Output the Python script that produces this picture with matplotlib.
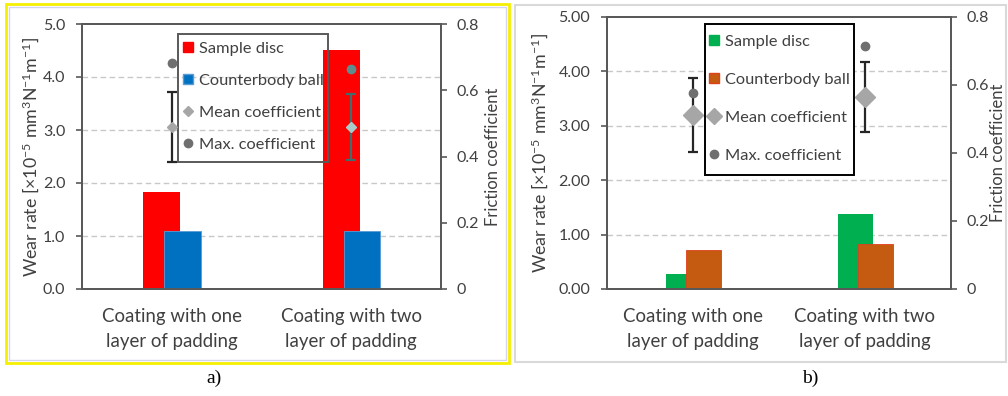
import numpy as np
import matplotlib
matplotlib.use("Agg")
import matplotlib.pyplot as plt
from matplotlib.lines import Line2D
from matplotlib.patches import Rectangle

plt.rcParams['font.family'] = ['Lato', 'DejaVu Sans']
plt.rcParams['mathtext.fontset'] = 'custom'
plt.rcParams['mathtext.rm'] = 'Lato'
plt.rcParams['mathtext.it'] = 'Lato'
plt.rcParams['mathtext.bf'] = 'Lato'

categories = ["Coating with one\nlayer of padding", "Coating with two\nlayer of padding"]

# panel a
disc_a = [1.83, 4.51]
ball_a = [1.10, 1.10]
mean_a = [0.489, 0.489]
err_a = [0.107, 0.100]
max_a = [0.682, 0.664]

# panel b
disc_b = [0.28, 1.37]
ball_b = [0.71, 0.83]
mean_b = [0.512, 0.565]
err_b = [0.108, 0.102]
max_b = [0.577, 0.715]

left_ticks_a = ["0.0", "1.0", "2.0", "3.0", "4.0", "5.0"]
left_ticks_b = ["0.00", "1.00", "2.00", "3.00", "4.00", "5.00"]
right_ticks = ["0", "0.2", "0.4", "0.6", "0.8"]
legend_labels = ["Sample disc", "Counterbody ball", "Mean coefficient", "Max. coefficient"]

TXT = "#404040"
SPINE = "#595959"
GRID = "#c8c8c8"
W, H = 1008, 396

fig = plt.figure(figsize=(10.08, 3.96), dpi=100)


def px_rect(x0, y0, x1, y1, **kw):
    # rectangle given in picture pixels (top-left origin)
    return Rectangle((x0 / W, 1 - y1 / H), (x1 - x0) / W, (y1 - y0) / H,
                     transform=fig.transFigure, **kw)


# panel frames
fig.patches.append(px_rect(6, 4, 509, 363, fill=False, ec="#f5f000", lw=2.0))
fig.patches.append(px_rect(8.5, 7, 506.5, 360, fill=False, ec="#d4d4ec", lw=1.0))
fig.patches.append(px_rect(515, 5, 1006, 362, fill=False, ec="#d9d9d9", lw=1.5))


def panel(rect, disc, ball, mean, err, mx, disc_c, ball_c, ball_ec, lticks,
          mean_ms, eb_colors, max_colors, mean_colors, leg_box, leg_xy, leg_space,
          leg_face, leg_edge, leg_mean_ms, lpad_left, lpad_right):
    ax = fig.add_axes(rect)
    x = np.arange(len(categories))
    ax.bar(x - 0.055, disc, width=0.205, color=disc_c, zorder=2)
    ax.bar(x + 0.06, ball, width=0.205, color=ball_c, edgecolor=ball_ec, lw=0.6, zorder=3)
    ax.set_xlim(-0.5, 1.5)
    ax.set_ylim(0, 5)
    ax.set_yticks(range(6))
    ax.set_yticklabels(lticks)
    for v in range(1, 5):
        ax.axhline(v, color=GRID, ls=(0, (4, 2.5)), lw=1.0, zorder=1)
    ax.set_xticks(x)
    ax.set_xticklabels(categories, linespacing=1.62)
    ax.tick_params(axis='x', length=0, pad=13.5, labelsize=13.4, colors=TXT)
    ax.tick_params(axis='y', length=4, width=1.2, color=SPINE, labelsize=11.5,
                   labelcolor=TXT, pad=8)
    for s in ax.spines.values():
        s.set_color(SPINE)
        s.set_linewidth(1.4)
    ax.set_ylabel(r'Wear rate [×$10^{-5}$ mm$^{3}$N$^{-1}$m$^{-1}$]', fontsize=12.8,
                  color=TXT, labelpad=lpad_left)

    ax2 = ax.twinx()
    ax2.set_ylim(0, 0.8)
    ax2.set_yticks([0, 0.2, 0.4, 0.6, 0.8])
    ax2.set_yticklabels(right_ticks)
    ax2.tick_params(axis='y', length=4, width=1.2, color=SPINE, labelsize=11.5,
                    labelcolor=TXT, pad=7.5)
    for s in ax2.spines.values():
        s.set_color(SPINE)
        s.set_linewidth(1.4)
    ax2.set_ylabel("Friction coefficient", fontsize=12, color=TXT, labelpad=lpad_right)
    for i in range(len(categories)):
        ax2.errorbar(x[i], mean[i], yerr=err[i], fmt='none', ecolor=eb_colors[i],
                     elinewidth=1.6, capsize=3.5, capthick=1.6, zorder=4)
        ax2.plot(x[i], mx[i], 'o', ms=6, color=max_colors[i], zorder=5)
        ax2.plot(x[i], mean[i], 'D', ms=mean_ms, color=mean_colors[i], zorder=5)

    # legend box drawn by hand so its padding can match
    ax2.add_artist(px_rect(*leg_box, fc=leg_face, ec=leg_edge, lw=1.4, zorder=4.6))
    handles = [
        Line2D([], [], ls='none', marker='s', ms=6.5, mfc=disc_c, mec=disc_c),
        Line2D([], [], ls='none', marker='s', ms=6.5, mfc=ball_c, mec=ball_ec),
        Line2D([], [], ls='none', marker='D', ms=leg_mean_ms, color="#a6a6a6"),
        Line2D([], [], ls='none', marker='o', ms=6, color="#6f6f6f"),
    ]
    leg = ax2.legend(handles, legend_labels, loc='upper left',
                     bbox_to_anchor=(leg_xy[0] / W, 1 - leg_xy[1] / H),
                     bbox_transform=fig.transFigure, borderaxespad=0, borderpad=0,
                     fontsize=11.8, handlelength=0.7, handletextpad=0.35,
                     labelspacing=leg_space, frameon=False)
    for t in leg.get_texts():
        t.set_color(TXT)
    return ax


panel([82 / W, 1 - 289 / H, 359 / W, 265 / H],
      disc_a, ball_a, mean_a, err_a, max_a,
      "#ff0000", "#0070c0", "#5b9bd5", left_ticks_a, 5.5,
      ["#262626", "#3f6e6e"], ["#6f6f6f", "#5f8c8c"], ["#a6a6a6", "#a8cccc"],
      (178, 34, 328, 162), (182, 41.5), 1.07, 'none', "#595959", 5, 1.5, 4)

panel([607 / W, 1 - 289 / H, 344 / W, 272 / H],
      disc_b, ball_b, mean_b, err_b, max_b,
      "#00b050", "#c55a11", "#e0401a", left_ticks_b, 10,
      ["#262626", "#262626"], ["#6f6f6f", "#6f6f6f"], ["#a6a6a6", "#a6a6a6"],
      (705, 24, 854, 175), (708, 34.5), 1.44, 'white', "#000000", 8.5, 6, 0.5)

fig.text(214 / W, 1 - 378 / H, "a)", family="Liberation Serif", fontsize=14,
         ha='center', va='center')
fig.text(810 / W, 1 - 378 / H, "b)", family="Liberation Serif", fontsize=14,
         ha='center', va='center')

fig.savefig("out.png", dpi=100)
